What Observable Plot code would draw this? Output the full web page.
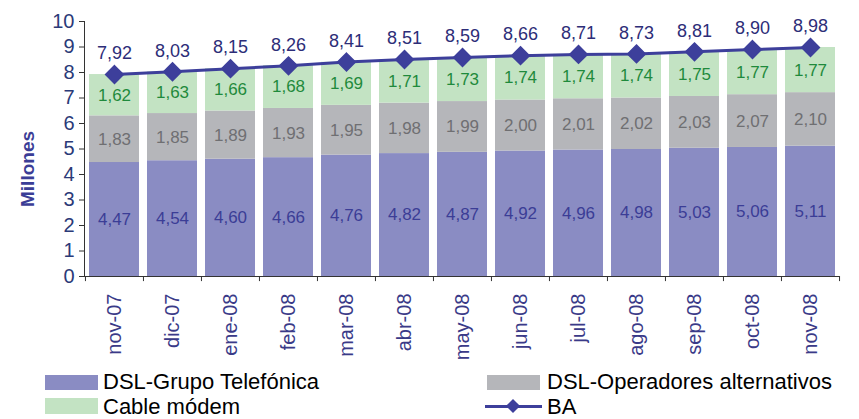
<!DOCTYPE html>
<html>
<head>
<meta charset="utf-8">
<script src="https://cdn.jsdelivr.net/npm/d3@7"></script>
<script src="https://cdn.jsdelivr.net/npm/@observablehq/plot@0.6"></script>
<style>
  body { margin: 0; background: #fff; font-family: "Liberation Sans", Arial, sans-serif; }
  #wrap { position: relative; width: 859px; height: 419px; overflow: hidden; }
  .sw { position: absolute; }
  .lt { position: absolute; font-size: 22px; line-height: 25px; color: #000; white-space: nowrap; }
</style>
</head>
<body>
<div id="wrap"></div>
<script>
const months = ["nov-07","dic-07","ene-08","feb-08","mar-08","abr-08","may-08","jun-08","jul-08","ago-08","sep-08","oct-08","nov-08"];
const telefonica = [4.47,4.54,4.60,4.66,4.76,4.82,4.87,4.92,4.96,4.98,5.03,5.06,5.11];
const alternativos = [1.83,1.85,1.89,1.93,1.95,1.98,1.99,2.00,2.01,2.02,2.03,2.07,2.10];
const cable = [1.62,1.63,1.66,1.68,1.69,1.71,1.73,1.74,1.74,1.74,1.75,1.77,1.77];
const ba = [7.92,8.03,8.15,8.26,8.41,8.51,8.59,8.66,8.71,8.73,8.81,8.90,8.98];
const yTicks = [0,1,2,3,4,5,6,7,8,9,10];
const seriesNames = ["DSL-Grupo Telefónica","DSL-Operadores alternativos","Cable módem"];
const seriesColors = ["#8a8cc3","#b5b6ba","#c3e3c3"];
const labelColors = ["#3b3d96","#6f6f72","#1f8a3c"];

const fmt = v => v.toFixed(2).replace(".", ",");

const rows = [];
months.forEach((m, i) => {
  const vals = [telefonica[i], alternativos[i], cable[i]];
  let base = 0;
  vals.forEach((v, k) => {
    rows.push({month: m, series: seriesNames[k], y1: base, y2: base + v, mid: base + v / 2, value: v, k});
    base += v;
  });
});
const baRows = months.map((m, i) => ({month: m, value: ba[i]}));

const W = 859, H = 369;
const mL = 84, mR = 20, mT = 21, mB = H - 276;
const step = (W - mL - mR) / months.length;

const chart = Plot.plot({
  width: W, height: H,
  marginLeft: mL, marginRight: mR, marginTop: mT, marginBottom: mB,
  style: {fontFamily: "'Liberation Sans', Arial, sans-serif", background: "#fff", overflow: "visible"},
  x: {type: "band", domain: months, paddingInner: 0.145, paddingOuter: 0.0725, label: null},
  y: {domain: [0, 10], label: null},
  marks: [
    Plot.rectY(rows, {x: "month", y1: "y1", y2: "y2", fill: d => seriesColors[d.k]}),
    Plot.frame({anchor: "left", stroke: "#333", strokeWidth: 1}),
    Plot.ruleY([0], {stroke: "#333", strokeWidth: 1}),
    Plot.ruleX(months, {x: d => d, y1: 0, y2: -0.2, dx: -step / 2, stroke: "#333"}),
    Plot.ruleX([months[months.length - 1]], {x: d => d, y1: 0, y2: -0.2, dx: step / 2, stroke: "#333"}),
    Plot.axisY({ticks: yTicks, tickSize: 5, tickPadding: 5, fontSize: 20, color: "#2b3a78", stroke: "#333", tickFormat: d => d, label: null}),
    Plot.axisX({tickSize: 0, tickRotate: -90, tickPadding: 17, fontSize: 20, color: "#3a3a88", label: null}),
    Plot.text(rows, {x: "month", y: "mid", text: d => fmt(d.value), fill: d => labelColors[d.k], fontSize: 17, letterSpacing: "-0.8px"}),
    Plot.line(baRows, {x: "month", y: "value", stroke: "#3d3f9b", strokeWidth: 3}),
    Plot.dot(baRows, {x: "month", y: "value", symbol: "diamond2", r: 8, fill: "#3d3f9b", stroke: "#3d3f9b"}),
    Plot.text(baRows, {x: "month", y: "value", text: d => fmt(d.value), dy: -21, fill: "#2d2d78", fontSize: 18, letterSpacing: "-1px"}),
    Plot.text(["Millones"], {frameAnchor: "left", textAnchor: "middle", dx: -57, dy: 20, rotate: -90, text: d => d, fill: "#3b3d96", fontSize: 19, fontWeight: "bold"})
  ]
});

const wrap = document.getElementById("wrap");
wrap.appendChild(chart);

function sw(left, top, w, h, color) {
  const d = document.createElement("div");
  d.className = "sw";
  Object.assign(d.style, {left: left + "px", top: top + "px", width: w + "px", height: h + "px", background: color});
  wrap.appendChild(d);
}
function lt(left, top, text) {
  const d = document.createElement("div");
  d.className = "lt";
  d.style.left = left + "px"; d.style.top = top + "px";
  d.textContent = text;
  wrap.appendChild(d);
}
sw(45, 375, 53, 15, seriesColors[0]);
lt(103, 369, seriesNames[0]);
sw(45, 398, 53, 16, seriesColors[2]);
lt(103, 394, seriesNames[2]);
sw(487, 375, 53, 15, seriesColors[1]);
lt(547, 369, seriesNames[1]);
sw(485, 405, 57, 3, "#3d3f9b");
const dia = document.createElement("div");
Object.assign(dia.style, {position: "absolute", left: "508px", top: "401px", width: "10px", height: "10px", background: "#3d3f9b", transform: "rotate(45deg)"});
wrap.appendChild(dia);
lt(547, 394, "BA");
</script>
</body>
</html>
